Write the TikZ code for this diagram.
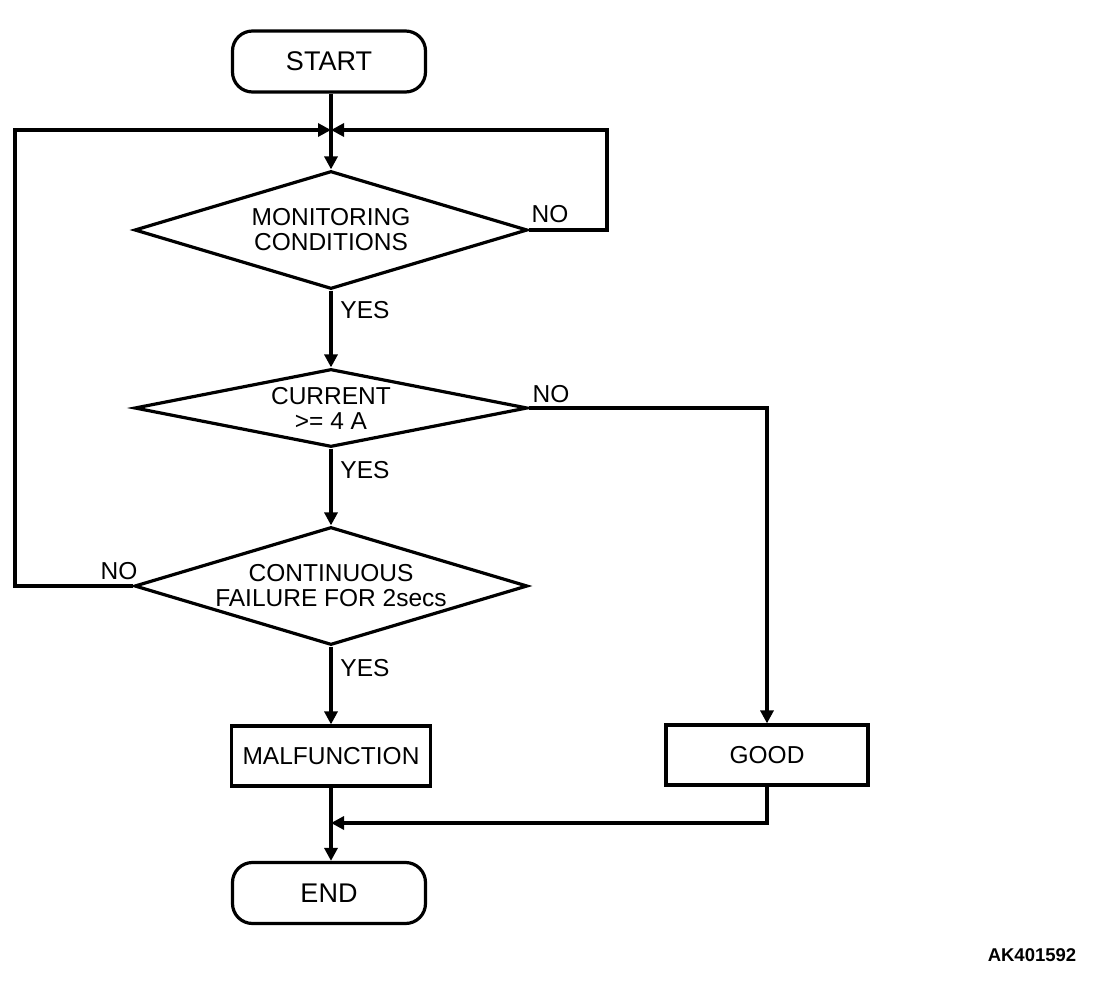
\documentclass[tikz,border=0pt]{standalone}
\usepackage{fontspec}
\setmainfont{Liberation Sans}
\usetikzlibrary{shapes.geometric,arrows.meta}
\begin{document}
\begin{tikzpicture}[x=1pt,y=-1pt,
  every node/.style={font=\fontsize{24.5}{25}\selectfont},
  ln/.style={line width=3.2pt},
  arr/.style={ln,-{Triangle[length=13pt,width=13pt]}},
  term/.style={draw,ln,rounded corners=20pt,minimum width=193pt,minimum height=61pt,inner sep=0pt,font=\fontsize{27}{28}\selectfont},
  dec/.style={draw,ln,diamond,inner sep=0pt,minimum width=393pt,align=center},
  proc/.style={draw,ln,minimum height=60pt,inner sep=0pt},
  lbl/.style={inner sep=0pt},
  code/.style={inner sep=0pt,font=\bfseries\fontsize{18.5}{20}\selectfont}]
\useasboundingbox (0,0) rectangle (1120,982);
\fill[white] (0,0) rectangle (1120,982);

\node[term] (start) at (329,61.5) {START};
\node[dec,minimum height=118pt,aspect=3.33] (d1) at (331,230) {MONITORING\\CONDITIONS};
\node[dec,minimum height=78pt,aspect=5.04] (d2) at (331,408) {CURRENT\\\textgreater= 4 A};
\node[dec,minimum height=118pt,aspect=3.33] (d3) at (331,586) {CONTINUOUS\\FAILURE FOR 2secs};
\node[proc,minimum width=199pt] (mal) at (331,756) {MALFUNCTION};
\node[proc,minimum width=202pt] (good) at (767,755) {GOOD};
\node[term] (endn) at (329,893) {END};

\coordinate (m1) at (331,130);
\coordinate (r1) at (607,130);
\coordinate (l1) at (15,130);
\coordinate (m2) at (331,823);

\draw[ln] (start.south -| d1.north) -- (m1);
\draw[arr] (m1) -- (d1.north);
\draw[arr] (d1.east) -| (r1) -- (m1);
\draw[arr] (d3.west) -| (l1) -- (m1);
\draw[arr] (d1.south) -- (d2.north);
\draw[arr] (d2.south) -- (d3.north);
\draw[arr] (d3.south) -- (mal.north);
\draw[arr] (d2.east) -| (good.north);
\draw[arr] (mal.south) -- (mal.south |- endn.north);
\draw[arr] (good.south) |- (m2);

\node[lbl] (no1) at (550,214) {NO};
\node[lbl] (no2) at (551,394) {NO};
\node[lbl] (no3) at (119,571) {NO};
\node[lbl] (yes1) at (365,310) {YES};
\node[lbl] (yes2) at (365,470) {YES};
\node[lbl] (yes3) at (365,668) {YES};
\node[code] (ak) at (1032,955) {AK401592};
\end{tikzpicture}
\end{document}
